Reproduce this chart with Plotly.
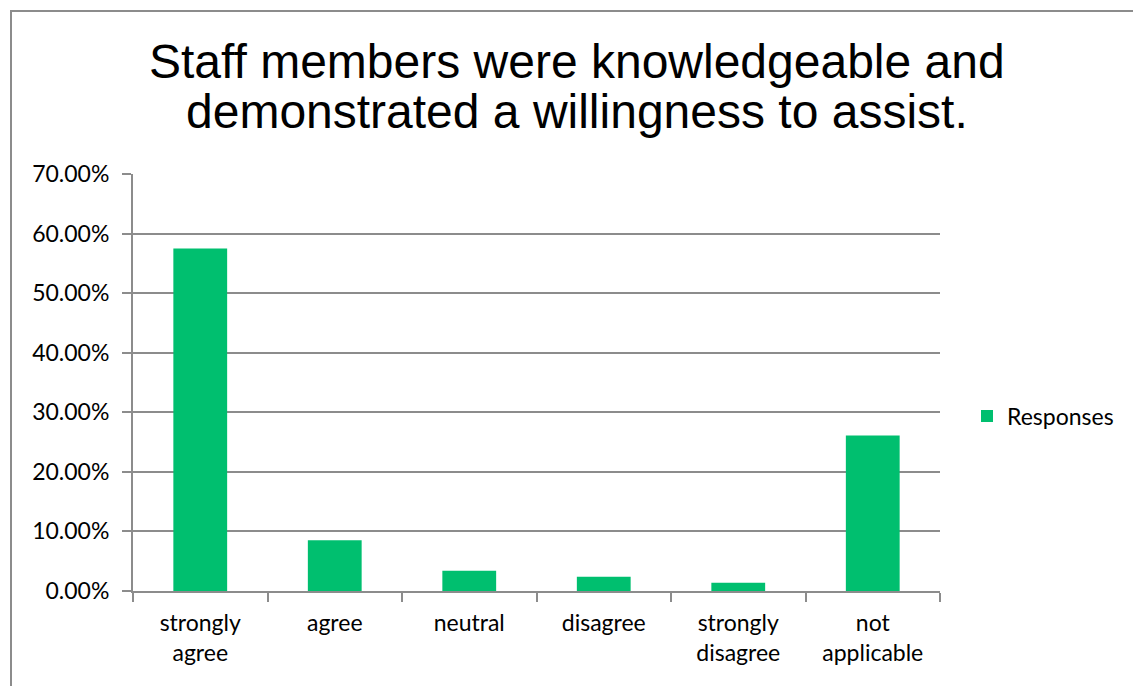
import plotly.graph_objects as go

# Survey responses
categories = ["strongly<br>agree", "agree", "neutral", "disagree", "strongly<br>disagree", "not<br>applicable"]
responses = [0.575, 0.085, 0.034, 0.024, 0.014, 0.261]
y_ticks = [0, 0.1, 0.2, 0.3, 0.4, 0.5, 0.6, 0.7]
title_lines = ["Staff members were knowledgeable and", "demonstrated a willingness to assist."]

W, H = 1133, 686
L, R, T, B = 133, 193, 174, 95
plot_w = W - L - R
plot_h = H - T - B

GREEN = "#00BF6F"
GREY = "#8C8C8C"
LABEL_FONT = dict(family="Lato, Open Sans, sans-serif", size=23, color="#000000")
TITLE_FONT = dict(family="Liberation Sans, Arial, sans-serif", size=48, color="#000000")


def px_to_paper_x(px):
    return (px - L) / plot_w


def px_to_paper_y(py):
    return (H - B - py) / plot_h


fig = go.Figure(
    go.Bar(
        x=categories,
        y=responses,
        name="Responses",
        marker=dict(color=GREEN, line=dict(width=0)),
        showlegend=True,
    )
)

fig.update_layout(
    width=W,
    height=H,
    margin=dict(l=L, r=R, t=T, b=B, autoexpand=False),
    paper_bgcolor="white",
    plot_bgcolor="white",
    bargap=0.6,
    legend=dict(
        x=px_to_paper_x(967),
        y=px_to_paper_y(416),
        xanchor="left",
        yanchor="middle",
        font=LABEL_FONT,
        itemwidth=30,
        bgcolor="rgba(0,0,0,0)",
    ),
    font=LABEL_FONT,
)

# Two-line chart title
for line, ypx in zip(title_lines, [62, 111]):
    fig.add_annotation(
        text=line,
        xref="paper",
        yref="paper",
        x=px_to_paper_x(577),
        y=px_to_paper_y(ypx),
        xanchor="center",
        yanchor="middle",
        showarrow=False,
        font=TITLE_FONT,
    )

fig.update_yaxes(
    range=[0, 0.7],
    tickvals=y_ticks,
    tickformat=".2%",
    showgrid=True,
    gridcolor=GREY,
    gridwidth=1.5,
    showline=True,
    linecolor=GREY,
    linewidth=2,
    ticks="outside",
    ticklen=9,
    tickcolor=GREY,
    tickwidth=2,
    zeroline=False,
    tickfont=LABEL_FONT,
    ticklabelstandoff=8,
)

fig.update_xaxes(
    showline=True,
    linecolor=GREY,
    linewidth=2,
    ticks="outside",
    tickson="boundaries",
    ticklen=9,
    tickcolor=GREY,
    tickwidth=2,
    showgrid=False,
    tickfont=LABEL_FONT,
    ticklabelstandoff=10,
)

# Outer chart frame
fig.add_shape(
    type="rect",
    xref="paper",
    yref="paper",
    x0=px_to_paper_x(11),
    x1=px_to_paper_x(W + 20),
    y0=px_to_paper_y(H + 20),
    y1=px_to_paper_y(11),
    line=dict(color=GREY, width=2),
    fillcolor="rgba(0,0,0,0)",
    layer="below",
)

fig.write_html("out.html")
